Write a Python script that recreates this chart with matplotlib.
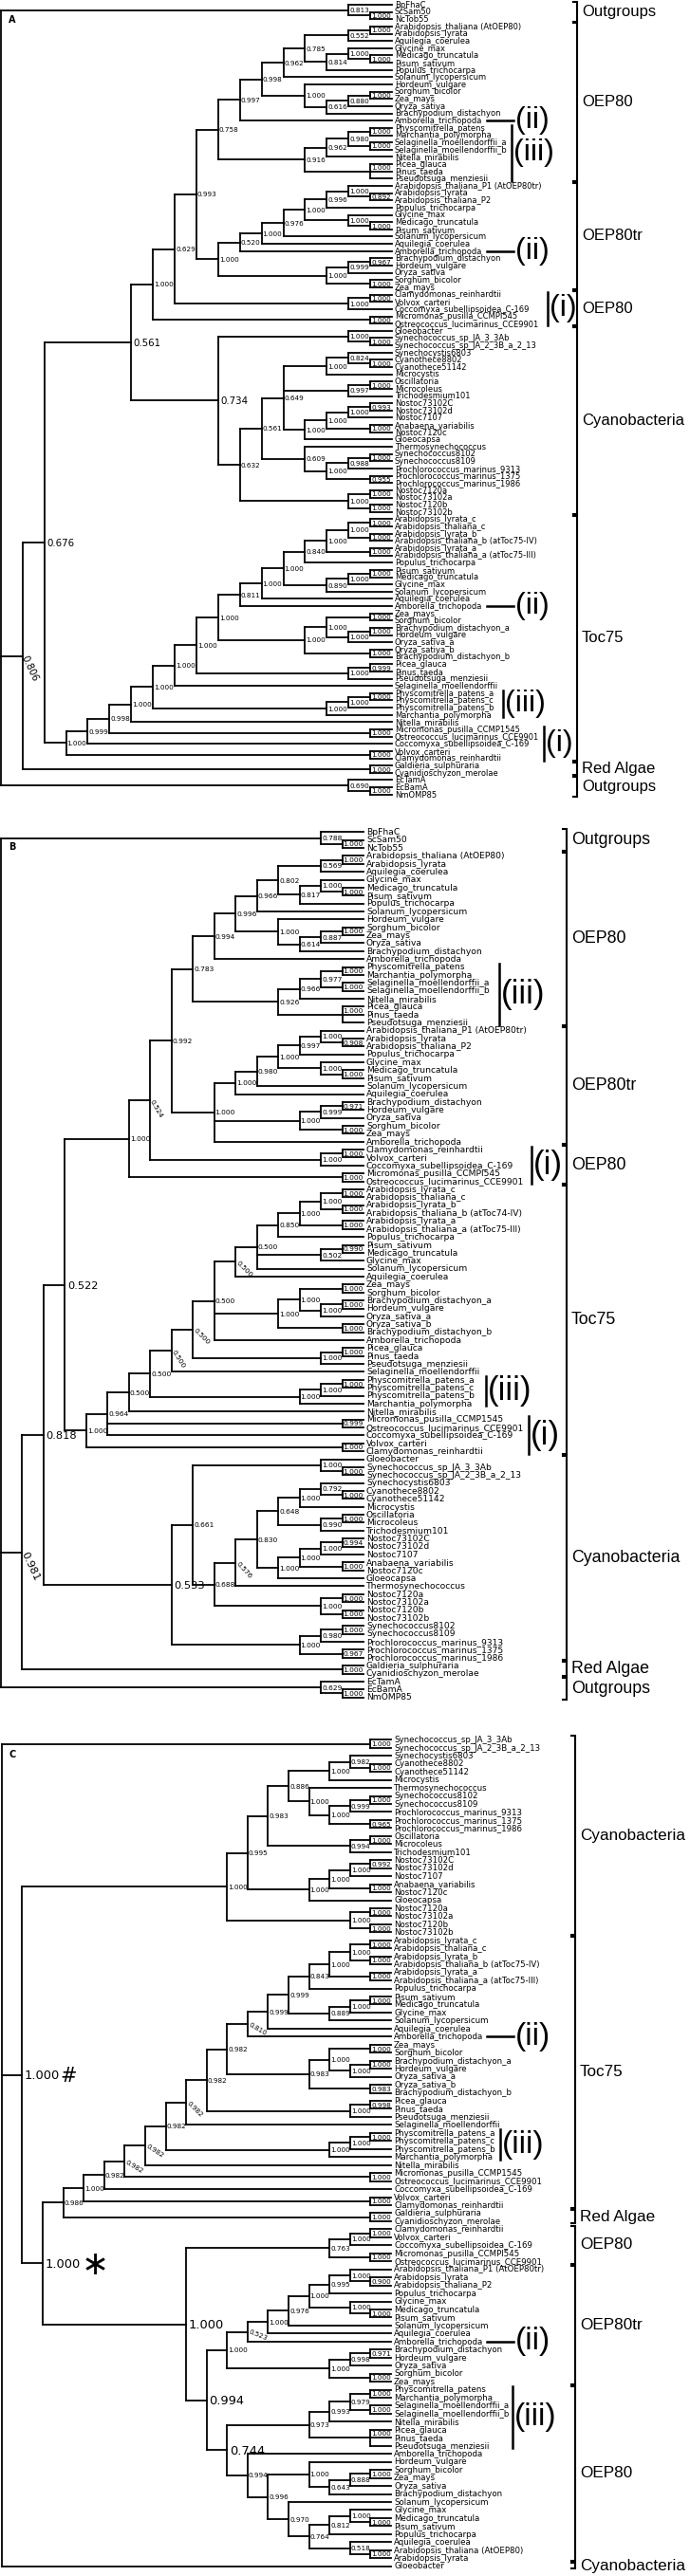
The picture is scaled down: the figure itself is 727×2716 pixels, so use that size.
import matplotlib
matplotlib.use("Agg")
import matplotlib.pyplot as plt
from matplotlib.collections import LineCollection

# ---------------- panel A ----------------
A_OUT_TOP = "(BpFhaC,(ScSam50,NcTob55)1.000)0.813"
A_DICOT = ("(((('Arabidopsis_thaliana (AtOEP80)',Arabidopsis_lyrata)1.000,Aquilegia_coerulea)0.552,"
           "((Glycine_max,(Medicago_truncatula,Pisum_sativum)1.000)1.000,Populus_trichocarpa)0.814)0.785,"
           "Solanum_lycopersicum)0.962")
A_MONO = "(Hordeum_vulgare,(((Sorghum_bicolor,Zea_mays)1.000,Oryza_sativa)0.880,Brachypodium_distachyon)0.616)1.000"
A_III = ("((((Physcomitrella_patens,Marchantia_polymorpha)1.000,(Selaginella_moellendorffii_a,"
         "Selaginella_moellendorffii_b)1.000)0.980,Nitella_mirabilis)0.962,"
         "(Picea_glauca,Pinus_taeda,Pseudotsuga_menziesii)1.000)0.916")
A_OEP80 = f"((({A_DICOT},{A_MONO})0.998,Amborella_trichopoda)0.997,{A_III})0.758"
A_TR_DICOT = ("(((((('Arabidopsis_thaliana_P1 (AtOEP80tr)',(Arabidopsis_lyrata,Arabidopsis_thaliana_P2)0.892)1.000,"
              "Populus_trichocarpa)0.996,(Glycine_max,(Medicago_truncatula,Pisum_sativum)1.000)1.000)1.000,"
              "Solanum_lycopersicum)0.976,Aquilegia_coerulea)1.000,Amborella_trichopoda)0.520")
A_TR_MONO = "(((Brachypodium_distachyon,Hordeum_vulgare)0.967,Oryza_sativa)0.999,(Sorghum_bicolor,Zea_mays)1.000)1.000"
A_OEP80TR = f"({A_TR_DICOT},{A_TR_MONO})1.000"
A_CLAM = "((Clamydomonas_reinhardtii,Volvox_carteri)1.000,Coccomyxa_subellipsoidea_C-169)1.000"
A_MICRO = "(Micromonas_pusilla_CCMPI545,Ostreococcus_lucimarinus_CCE9901)1.000"
A_GLOEO = "(Gloeobacter,(Synechococcus_sp_JA_3_3Ab,Synechococcus_sp_JA_2_3B_a_2_13)1.000)1.000"
A_SYN = "((Synechocystis6803,(Cyanothece8802,Cyanothece51142)1.000)0.824,Microcystis)1.000"
A_OSC = "((Oscillatoria,Microcoleus)1.000,Trichodesmium101)0.997"
A_NOS = ("((((Nostoc73102C,Nostoc73102d)0.993,Nostoc7107)1.000,(Anabaena_variabilis,Nostoc7120c)1.000)1.000,"
         "Gloeocapsa)1.000")
A_THERMO = ("(Thermosynechococcus,(((Synechococcus8102,Synechococcus8109)1.000,Prochlorococcus_marinus_9313)0.988,"
            "(Prochlorococcus_marinus_1375,Prochlorococcus_marinus_1986)0.955)1.000)0.609")
A_N7120 = "((Nostoc7120a,Nostoc73102a)1.000,(Nostoc7120b,Nostoc73102b)1.000)1.000"
A_CYANO = f"({A_GLOEO},((({A_SYN},{A_OSC},{A_NOS})0.649,{A_THERMO})0.561,{A_N7120})0.632)0.734"
A_T_DICOT = ("((((((Arabidopsis_lyrata_c,Arabidopsis_thaliana_c)1.000,(Arabidopsis_lyrata_b,"
             "'Arabidopsis_thaliana_b (atToc75-IV)')1.000)1.000,(Arabidopsis_lyrata_a,"
             "'Arabidopsis_thaliana_a (atToc75-III)')1.000)1.000,Populus_trichocarpa)0.840,"
             "(((Pisum_sativum,Medicago_truncatula)1.000,Glycine_max)1.000,Solanum_lycopersicum)0.890)1.000,"
             "Aquilegia_coerulea)1.000")
A_T_MONO = ("(((Zea_mays,Sorghum_bicolor)1.000,((Brachypodium_distachyon_a,Hordeum_vulgare)1.000,"
            "Oryza_sativa_a)1.000)1.000,(Oryza_sativa_b,Brachypodium_distachyon_b)1.000)1.000")
A_T_CONIF = "((Picea_glauca,Pinus_taeda)0.999,Pseudotsuga_menziesii)1.000"
A_T_SEED = f"((({A_T_DICOT},Amborella_trichopoda)0.811,{A_T_MONO})1.000,{A_T_CONIF})1.000"
A_T_PHYSCO = ("(((Physcomitrella_patens_a,Physcomitrella_patens_c)1.000,Physcomitrella_patens_b)1.000,"
              "Marchantia_polymorpha)1.000")
A_T_MICRO = "(Micromonas_pusilla_CCMP1545,Ostreococcus_lucimarinus_CCE9901)1.000"
A_T_VOLVOX = "(Volvox_carteri,Clamydomonas_reinhardtii)1.000"
A_TOC75 = (f"(((((({A_T_SEED},Selaginella_moellendorffii)1.000,{A_T_PHYSCO})1.000,Nitella_mirabilis)1.000,"
           f"{A_T_MICRO})0.998,Coccomyxa_subellipsoidea_C-169)0.999,{A_T_VOLVOX})1.000")
A_RED = "(Galdieria_sulphuraria,Cyanidioschyzon_merolae)1.000"
A_OUT_BOT = "(EcTamA,(EcBamA,NmOMP85)1.000)0.690"
A_TREE = (f"({A_OUT_TOP},(((((({A_OEP80},{A_OEP80TR})0.993,{A_CLAM})0.629,{A_MICRO})1.000,{A_CYANO})0.561,"
          f"{A_TOC75})0.676,{A_RED})0.806,{A_OUT_BOT})")
A_GROUPS = ["Outgroups", "OEP80", "OEP80tr", "OEP80", "Cyanobacteria", "Toc75", "Red Algae", "Outgroups"]
A_SIZES = [3, 22, 15, 5, 26, 34, 2, 3]
A_ROMAN = [("(ii)", 16, 16), ("(iii)", 17, 24), ("(ii)", 34, 34), ("(i)", 40, 44),
           ("(ii)", 83, 83), ("(iii)", 95, 98), ("(i)", 100, 104)]

# ---------------- panel B ----------------
B_OUT_TOP = "(BpFhaC,(ScSam50,NcTob55)1.000)0.788"
B_DICOT = ("(((('Arabidopsis_thaliana (AtOEP80)',Arabidopsis_lyrata)1.000,Aquilegia_coerulea)0.569,"
           "((Glycine_max,(Medicago_truncatula,Pisum_sativum)1.000)1.000,Populus_trichocarpa)0.817)0.802,"
           "Solanum_lycopersicum)0.966")
B_MONO = "(Hordeum_vulgare,(((Sorghum_bicolor,Zea_mays)1.000,Oryza_sativa)0.887,Brachypodium_distachyon)0.614)1.000"
B_III = ("((((Physcomitrella_patens,Marchantia_polymorpha)1.000,(Selaginella_moellendorffii_a,"
         "Selaginella_moellendorffii_b)1.000)0.977,Nitella_mirabilis)0.966,"
         "(Picea_glauca,Pinus_taeda,Pseudotsuga_menziesii)1.000)0.926")
B_OEP80 = f"((({B_DICOT},{B_MONO})0.996,Amborella_trichopoda)0.994,{B_III})0.783"
B_TR_DICOT = ("((((('Arabidopsis_thaliana_P1 (AtOEP80tr)',(Arabidopsis_lyrata,Arabidopsis_thaliana_P2)0.908)1.000,"
              "Populus_trichocarpa)0.997,(Glycine_max,(Medicago_truncatula,Pisum_sativum)1.000)1.000)1.000,"
              "Solanum_lycopersicum)0.980,Aquilegia_coerulea)1.000")
B_TR_MONO = "(((Brachypodium_distachyon,Hordeum_vulgare)0.971,Oryza_sativa)0.999,(Sorghum_bicolor,Zea_mays)1.000)1.000"
B_OEP80TR = f"({B_TR_DICOT},{B_TR_MONO},Amborella_trichopoda)1.000"
B_CLAM = "((Clamydomonas_reinhardtii,Volvox_carteri)1.000,Coccomyxa_subellipsoidea_C-169)1.000"
B_MICRO = "(Micromonas_pusilla_CCMPI545,Ostreococcus_lucimarinus_CCE9901)1.000"
B_T_DICOT = ("(((((Arabidopsis_lyrata_c,Arabidopsis_thaliana_c)1.000,(Arabidopsis_lyrata_b,"
             "'Arabidopsis_thaliana_b (atToc74-IV)')1.000)1.000,(Arabidopsis_lyrata_a,"
             "'Arabidopsis_thaliana_a (atToc75-III)')1.000)1.000,Populus_trichocarpa)0.850,"
             "((Pisum_sativum,Medicago_truncatula)0.990,Glycine_max)0.502,Solanum_lycopersicum)0.500")
B_T_MONO = ("(((Zea_mays,Sorghum_bicolor)1.000,((Brachypodium_distachyon_a,Hordeum_vulgare)1.000,"
            "Oryza_sativa_a)1.000)1.000,(Oryza_sativa_b,Brachypodium_distachyon_b)1.000)1.000")
B_T_CONIF = "((Picea_glauca,Pinus_taeda)1.000,Pseudotsuga_menziesii)1.000"
B_T_SEED = f"((({B_T_DICOT},Aquilegia_coerulea)0.500,{B_T_MONO},Amborella_trichopoda)0.500,{B_T_CONIF})0.500"
B_T_PHYSCO = ("(((Physcomitrella_patens_a,Physcomitrella_patens_c)1.000,Physcomitrella_patens_b)1.000,"
              "Marchantia_polymorpha)1.000")
B_T_MICRO = "(Micromonas_pusilla_CCMP1545,Ostreococcus_lucimarinus_CCE9901)0.999"
B_T_VOLVOX = "(Volvox_carteri,Clamydomonas_reinhardtii)1.000"
B_TOC75 = (f"((((({B_T_SEED},Selaginella_moellendorffii)0.500,{B_T_PHYSCO})0.500,Nitella_mirabilis)0.500,"
           f"{B_T_MICRO},Coccomyxa_subellipsoidea_C-169)0.964,{B_T_VOLVOX})1.000")
B_GLOEO = "(Gloeobacter,(Synechococcus_sp_JA_3_3Ab,Synechococcus_sp_JA_2_3B_a_2_13)1.000)1.000"
B_SYN = "((Synechocystis6803,(Cyanothece8802,Cyanothece51142)1.000)0.792,Microcystis)1.000"
B_OSC = "((Oscillatoria,Microcoleus)1.000,Trichodesmium101)0.990"
B_NOS = ("((((Nostoc73102C,Nostoc73102d)0.994,Nostoc7107)1.000,(Anabaena_variabilis,Nostoc7120c)1.000)1.000,"
         "Gloeocapsa)1.000")
B_N7120 = "((Nostoc7120a,Nostoc73102a)1.000,(Nostoc7120b,Nostoc73102b)1.000)1.000"
B_PRO = ("(((Synechococcus8102,Synechococcus8109)1.000,Prochlorococcus_marinus_9313)0.980,"
         "(Prochlorococcus_marinus_1375,Prochlorococcus_marinus_1986)0.967)1.000")
B_CYANO = (f"(({B_GLOEO},(((({B_SYN},{B_OSC})0.648,{B_NOS})0.830,Thermosynechococcus)0.576,{B_N7120})0.688)0.661,"
           f"{B_PRO})0.533")
B_RED = "(Galdieria_sulphuraria,Cyanidioschyzon_merolae)1.000"
B_OUT_BOT = "(EcTamA,(EcBamA,NmOMP85)1.000)0.629"
B_TREE = (f"({B_OUT_TOP},(((((({B_OEP80},{B_OEP80TR})0.992,{B_CLAM})0.524,{B_MICRO})1.000,{B_TOC75})0.522,"
          f"{B_CYANO})0.818,{B_RED})0.981,{B_OUT_BOT})")
B_GROUPS = ["Outgroups", "OEP80", "OEP80tr", "OEP80", "Toc75", "Cyanobacteria", "Red Algae", "Outgroups"]
B_SIZES = [3, 22, 15, 5, 34, 26, 2, 3]
B_ROMAN = [("(iii)", 17, 24), ("(i)", 40, 44), ("(iii)", 69, 72), ("(i)", 74, 78)]

# ---------------- panel C ----------------
C_JA = "(Synechococcus_sp_JA_3_3Ab,Synechococcus_sp_JA_2_3B_a_2_13)1.000"
C_SYN = "((Synechocystis6803,(Cyanothece8802,Cyanothece51142)1.000)0.982,Microcystis)1.000"
C_THERMO = ("(Thermosynechococcus,(((Synechococcus8102,Synechococcus8109)1.000,Prochlorococcus_marinus_9313)0.999,"
            "(Prochlorococcus_marinus_1375,Prochlorococcus_marinus_1986)0.965)1.000)1.000")
C_OSC = "((Oscillatoria,Microcoleus)1.000,Trichodesmium101)0.994"
C_NOS = ("((((Nostoc73102C,Nostoc73102d)0.992,Nostoc7107)1.000,(Anabaena_variabilis,Nostoc7120c)1.000)1.000,"
         "Gloeocapsa)1.000")
C_N7120 = "((Nostoc7120a,Nostoc73102a)1.000,(Nostoc7120b,Nostoc73102b)1.000)1.000"
C_CYANO = f"(((({C_SYN},{C_THERMO})0.886,{C_OSC})0.983,{C_NOS})0.995,{C_N7120})1.000"
C_T_DICOT = ("(((((((Arabidopsis_lyrata_c,Arabidopsis_thaliana_c)1.000,(Arabidopsis_lyrata_b,"
             "'Arabidopsis_thaliana_b (atToc75-IV)')1.000)1.000,(Arabidopsis_lyrata_a,"
             "'Arabidopsis_thaliana_a (atToc75-III)')1.000)1.000,Populus_trichocarpa)0.843,"
             "(((Pisum_sativum,Medicago_truncatula)1.000,Glycine_max)1.000,Solanum_lycopersicum)0.889)0.999,"
             "Aquilegia_coerulea)0.999,Amborella_trichopoda)0.810")
C_T_MONO = ("(((Zea_mays,Sorghum_bicolor)1.000,((Brachypodium_distachyon_a,Hordeum_vulgare)1.000,"
            "Oryza_sativa_a)1.000)1.000,(Oryza_sativa_b,Brachypodium_distachyon_b)0.983)0.983")
C_T_CONIF = "((Picea_glauca,Pinus_taeda)0.998,Pseudotsuga_menziesii)1.000"
C_T_SEED = f"((({C_T_DICOT},{C_T_MONO})0.982,{C_T_CONIF})0.982,Selaginella_moellendorffii)0.982"
C_T_PHYSCO = ("(((Physcomitrella_patens_a,Physcomitrella_patens_c)1.000,Physcomitrella_patens_b)1.000,"
              "Marchantia_polymorpha)1.000")
C_T_MICRO = "(Micromonas_pusilla_CCMP1545,Ostreococcus_lucimarinus_CCE9901)1.000"
C_T_VOLVOX = "(Volvox_carteri,Clamydomonas_reinhardtii)1.000"
C_RED = "(Galdieria_sulphuraria,Cyanidioschyzon_merolae)1.000"
C_TOCRED = (f"(((((({C_T_SEED},{C_T_PHYSCO})0.982,Nitella_mirabilis)0.982,{C_T_MICRO})0.982,"
            f"Coccomyxa_subellipsoidea_C-169)0.982,{C_T_VOLVOX})1.000,{C_RED})0.986")
C_OEP80I = ("(((Clamydomonas_reinhardtii,Volvox_carteri)1.000,Coccomyxa_subellipsoidea_C-169)1.000,"
            "(Micromonas_pusilla_CCMPI545,Ostreococcus_lucimarinus_CCE9901)1.000)0.763")
C_TR_DICOT = ("(((((('Arabidopsis_thaliana_P1 (AtOEP80tr)',(Arabidopsis_lyrata,Arabidopsis_thaliana_P2)0.900)1.000,"
              "Populus_trichocarpa)0.995,(Glycine_max,(Medicago_truncatula,Pisum_sativum)1.000)1.000)1.000,"
              "Solanum_lycopersicum)0.976,Aquilegia_coerulea)1.000,Amborella_trichopoda)0.523")
C_TR_MONO = "(((Brachypodium_distachyon,Hordeum_vulgare)0.971,Oryza_sativa)0.998,(Sorghum_bicolor,Zea_mays)1.000)1.000"
C_OEP80TR = f"({C_TR_DICOT},{C_TR_MONO})1.000"
C_III = ("((((Physcomitrella_patens,Marchantia_polymorpha)1.000,(Selaginella_moellendorffii_a,"
         "Selaginella_moellendorffii_b)1.000)0.979,Nitella_mirabilis)0.993,"
         "(Picea_glauca,Pinus_taeda,Pseudotsuga_menziesii)1.000)0.973")
C_ANGIO = ("(Amborella_trichopoda,((Hordeum_vulgare,(((Sorghum_bicolor,Zea_mays)1.000,Oryza_sativa)0.888,"
           "Brachypodium_distachyon)0.643)1.000,(Solanum_lycopersicum,(((Glycine_max,(Medicago_truncatula,"
           "Pisum_sativum)1.000)1.000,Populus_trichocarpa)0.812,(Aquilegia_coerulea,"
           "('Arabidopsis_thaliana (AtOEP80)',Arabidopsis_lyrata)1.000)0.518)0.764)0.970)0.996)0.994")
C_OEP80 = f"({C_III},{C_ANGIO})0.744"
C_TREE = (f"({C_JA},({C_CYANO},({C_TOCRED},({C_OEP80I},({C_OEP80TR},{C_OEP80})0.994)1.000)1.000 \u2217)"
          f"1.000 #,Gloeobacter)")
C_GROUPS = ["Cyanobacteria", "Toc75", "Red Algae", "OEP80", "OEP80tr", "OEP80", "Cyanobacteria"]
C_SIZES = [25, 34, 2, 5, 15, 22, 1]
C_ROMAN = [("(ii)", 37, 37), ("(iii)", 49, 52), ("(ii)", 75, 75), ("(iii)", 81, 88)]

# nodes whose support is printed large / tilted, named by their first and last leaf
AT = "Arabidopsis_thaliana (AtOEP80)"
LC = "Arabidopsis_lyrata_c"
BIG = {
    "A": [("Gloeobacter", "Nostoc73102b"), (AT, "Nostoc73102b"), (AT, "Clamydomonas_reinhardtii"),
          (AT, "Cyanidioschyzon_merolae")],
    "B": [("Gloeobacter", "Prochlorococcus_marinus_1986"), (AT, "Clamydomonas_reinhardtii"),
          (AT, "Prochlorococcus_marinus_1986"), (AT, "Cyanidioschyzon_merolae")],
    "C": [("Synechocystis6803", "Arabidopsis_lyrata"), (LC, "Arabidopsis_lyrata"),
          ("Clamydomonas_reinhardtii", "Arabidopsis_lyrata"),
          ("Arabidopsis_thaliana_P1 (AtOEP80tr)", "Arabidopsis_lyrata"),
          ("Physcomitrella_patens", "Arabidopsis_lyrata")],
}
TILT = {
    "A": {(AT, "Cyanidioschyzon_merolae"): -65},
    "B": {(LC, "Aquilegia_coerulea"): -45,
          (LC, "Pseudotsuga_menziesii"): -45,
          (LC, "Selaginella_moellendorffii"): -58,
          (AT, "Coccomyxa_subellipsoidea_C-169"): -60,
          ("Synechocystis6803", "Thermosynechococcus"): -48,
          (AT, "Cyanidioschyzon_merolae"): -65},
    "C": {(LC, "Amborella_trichopoda"): -30,
          (LC, "Selaginella_moellendorffii"): -45,
          (LC, "Nitella_mirabilis"): -33,
          (LC, "Ostreococcus_lucimarinus_CCE9901"): -31,
          ("Arabidopsis_thaliana_P1 (AtOEP80tr)", "Amborella_trichopoda"): -22},
}


def parse(text):
    pos = 0

    def name():
        nonlocal pos
        if pos < len(text) and text[pos] == "'":
            end = text.index("'", pos + 1)
            s = text[pos + 1:end]
            pos = end + 1
            return s
        start = pos
        while pos < len(text) and text[pos] not in ",()":
            pos += 1
        return text[start:pos]

    def clade():
        nonlocal pos
        kids = []
        if text[pos] == "(":
            while text[pos] in "(,":
                pos += 1
                kids.append(clade())
            pos += 1
        return {"kids": kids, "label": name()}

    return clade()


def draw_panel(ax, key, tree, groups, sizes, roman, p):
    root = parse(tree)
    leaves = []

    def place(n):
        if not n["kids"]:
            n["h"], n["y"] = 0, p["top"] + p["row"] * len(leaves)
            n["first"] = n["last"] = n["label"]
            leaves.append(n)
        else:
            for k in n["kids"]:
                place(k)
            n["h"] = 1 + max(k["h"] for k in n["kids"])
            n["y"] = (n["kids"][0]["y"] + n["kids"][-1]["y"]) / 2
            n["first"], n["last"] = n["kids"][0]["first"], n["kids"][-1]["last"]
        n["x"] = p["x0"] - p["step"] * n["h"]

    place(root)
    segs = []
    big = BIG[key]
    tilt = TILT[key]

    def walk(n):
        if not n["kids"]:
            ax.text(n["x"] + 3, n["y"] + 0.3, n["label"], fontsize=p["leaf"], va="center", ha="left")
            return
        segs.append([(n["x"], n["kids"][0]["y"]), (n["x"], n["kids"][-1]["y"])])
        for k in n["kids"]:
            segs.append([(n["x"], k["y"]), (k["x"], k["y"])])
            walk(k)
        lab = n["label"]
        if not lab:
            return
        nk = (n["first"], n["last"])
        size = p["big"] if nk in big else p["sup"]
        if nk in tilt:
            ax.text(n["x"] + 1.5, n["y"], lab, fontsize=size, va="center", ha="left",
                    rotation=tilt[nk], rotation_mode="anchor")
        elif nk in big:
            num, _, sym = lab.partition(" ")
            ax.text(n["x"] + 2.5, n["y"] + 1, num, fontsize=size, va="center", ha="left")
            if sym == "#":
                ax.text(n["x"] + 39.5, n["y"] + 1, sym, fontsize=15, va="center", ha="left")
            elif sym:
                ax.text(n["x"] + 41, n["y"] + 2, sym, fontsize=25, va="center", ha="left")
        else:
            dy = 0.5
            if any(abs(k["y"] - n["y"]) < 0.5 for k in n["kids"]):
                dy = -p["row"] / 2
            ax.text(n["x"] + 1, n["y"] + dy, lab, fontsize=size, va="center", ha="left")

    walk(root)
    ax.add_collection(LineCollection(segs, colors="black", linewidths=1.3, capstyle="projecting"))

    # clade brackets on the right
    bx = p["bx"]
    start = 0
    for name, size in zip(groups, sizes):
        y0 = leaves[start]["y"] - 0.45 * p["row"]
        y1 = leaves[start + size - 1]["y"] + 0.3 * p["row"]
        ax.plot([bx - 4, bx, bx, bx - 4], [y0, y0, y1, y1], color="black", lw=1.5,
                solid_joinstyle="miter")
        ax.text(bx + 5, (y0 + y1) / 2, name, fontsize=p["clade"], family="Liberation Sans",
                va="center", ha="left")
        start += size

    # roman numeral markers
    for (txt, i0, i1), bar in zip(roman, p["bars"]):
        if i0 == i1:
            y = leaves[i0]["y"]
            ax.plot([bar - 28, bar], [y, y], color="black", lw=1.8)
            ax.text(bar + 2, y, txt, fontsize=p["roman"], family="Liberation Sans", va="center", ha="left")
        else:
            y0 = leaves[i0]["y"] - 0.4 * p["row"]
            y1 = leaves[i1]["y"] + 0.3 * p["row"]
            ax.plot([bar, bar], [y0, y1], color="black", lw=1.8)
            ax.text(bar + 2, (y0 + y1) / 2, txt, fontsize=p["roman"], family="Liberation Sans",
                    va="center", ha="left")

    ax.text(9, p["top"] + 16, key, fontsize=7, fontweight="bold", va="center", ha="left")


plt.rcParams["font.family"] = ["DejaVu Sans"]
fig = plt.figure(figsize=(7.27, 27.16), dpi=100)
ax = fig.add_axes([0, 0, 1, 1])
ax.set_xlim(0, 727)
ax.set_ylim(2716, 0)
ax.axis("off")

PANEL_A = dict(top=5.0, row=7.64, x0=413, step=22.9, leaf=6.0, sup=5.2, big=7.4, clade=12,
               roman=23, bx=608, bars=[541, 539, 541, 577, 541, 530, 573])
PANEL_B = dict(top=877.3, row=8.37, x0=383, step=22.48, leaf=6.6, sup=5.4, big=8.2, clade=12.8,
               roman=25, bx=597, bars=[526, 560, 512, 557])
PANEL_C = dict(top=1834.3, row=8.46, x0=412, step=21.59, leaf=6.25, sup=5.2, big=9.4, clade=12.3,
               roman=24, bx=606, bars=[541, 527, 541, 540])

draw_panel(ax, "A", A_TREE, A_GROUPS, A_SIZES, A_ROMAN, PANEL_A)
draw_panel(ax, "B", B_TREE, B_GROUPS, B_SIZES, B_ROMAN, PANEL_B)
draw_panel(ax, "C", C_TREE, C_GROUPS, C_SIZES, C_ROMAN, PANEL_C)

fig.savefig("out.png", dpi=100)
